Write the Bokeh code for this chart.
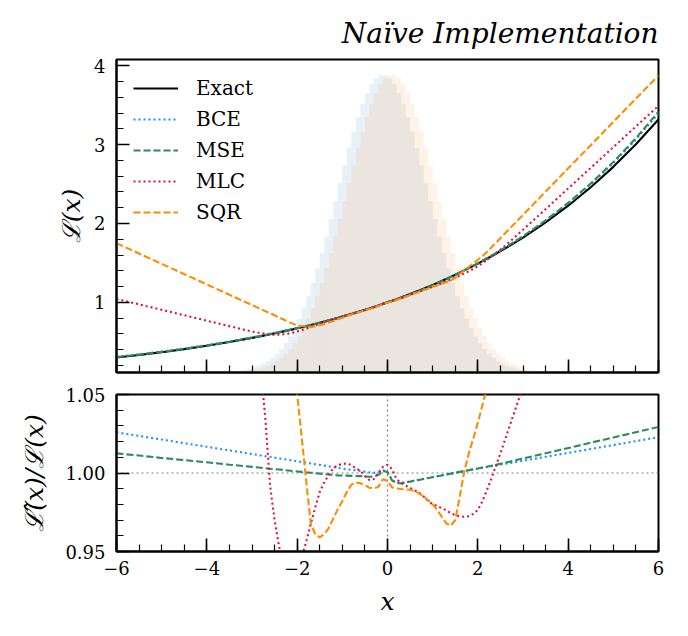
import numpy as np
from bokeh.plotting import figure
from bokeh.layouts import column
from bokeh.models import (Range1d, FixedTicker, Legend, LegendItem, Span, PrintfTickFormatter,
                          CustomJSTickFormatter)
from bokeh.embed import file_html
from bokeh.resources import INLINE

# ---------------- data ----------------
x = [-6, -5.5, -5, -4.5, -4, -3.5, -3,
     -2.8, -2.7, -2.6, -2.5, -2.4, -2.3, -2.2, -2.1, -2.0,
     -1.9, -1.8, -1.7, -1.6, -1.5, -1.4, -1.3, -1.2, -1.1, -1.0,
     -0.9, -0.8, -0.7, -0.6, -0.5, -0.4, -0.3, -0.2, -0.1, 0.0,
     0.1, 0.2, 0.3, 0.4, 0.5, 0.6, 0.7, 0.8, 0.9, 1.0,
     1.1, 1.2, 1.3, 1.4, 1.5, 1.6, 1.7, 1.8, 1.9, 2.0,
     2.1, 2.2, 2.3, 2.4, 2.5, 2.6, 2.7, 2.8, 2.9, 3.0,
     3.5, 4, 4.5, 5, 5.5, 6]

exact = [0.3012, 0.3329, 0.3679, 0.4066, 0.4493, 0.4966, 0.5488,
         0.5712, 0.5827, 0.5945, 0.6065, 0.6188, 0.6313, 0.6440, 0.6570, 0.6703,
         0.6839, 0.6977, 0.7118, 0.7261, 0.7408, 0.7558, 0.7711, 0.7866, 0.8025, 0.8187,
         0.8353, 0.8521, 0.8694, 0.8869, 0.9048, 0.9231, 0.9418, 0.9608, 0.9802, 1.0000,
         1.0202, 1.0408, 1.0618, 1.0833, 1.1052, 1.1275, 1.1503, 1.1735, 1.1972, 1.2214,
         1.2461, 1.2712, 1.2969, 1.3231, 1.3499, 1.3771, 1.4049, 1.4333, 1.4623, 1.4918,
         1.5220, 1.5527, 1.5841, 1.6161, 1.6487, 1.6820, 1.7160, 1.7507, 1.7860, 1.8221,
         2.0138, 2.2255, 2.4596, 2.7183, 3.0042, 3.3201]

ratio_bce = [1.0259, 1.0236, 1.0213, 1.0190, 1.0167, 1.0144, 1.0121,
             1.0112, 1.0107, 1.0103, 1.0098, 1.0093, 1.0089, 1.0084, 1.0079, 1.0075,
             1.0070, 1.0066, 1.0061, 1.0056, 1.0052, 1.0047, 1.0042, 1.0038, 1.0033, 1.0029,
             1.0024, 1.0020, 1.0017, 1.0013, 1.0009, 1.0004, 1.0001, 1.0005, 1.0017, 1.0008,
             0.9957, 0.9939, 0.9935, 0.9941, 0.9946, 0.9952, 0.9957, 0.9963, 0.9968, 0.9974,
             0.9979, 0.9985, 0.9990, 0.9996, 1.0001, 1.0007, 1.0012, 1.0018, 1.0023, 1.0028,
             1.0033, 1.0038, 1.0043, 1.0048, 1.0053, 1.0058, 1.0063, 1.0068, 1.0073, 1.0078,
             1.0103, 1.0128, 1.0153, 1.0178, 1.0203, 1.0228]

ratio_mse = [1.0125, 1.0111, 1.0096, 1.0082, 1.0068, 1.0053, 1.0039,
             1.0033, 1.0030, 1.0027, 1.0025, 1.0022, 1.0019, 1.0016, 1.0013, 1.0010,
             1.0007, 1.0004, 1.0002, 0.9999, 0.9996, 0.9993, 0.9990, 0.9987, 0.9985, 0.9984,
             0.9983, 0.9982, 0.9981, 0.9980, 0.9978, 0.9976, 0.9977, 0.9988, 1.0015, 1.0005,
             0.9953, 0.9937, 0.9934, 0.9940, 0.9945, 0.9951, 0.9956, 0.9962, 0.9968, 0.9973,
             0.9979, 0.9984, 0.9990, 0.9996, 1.0001, 1.0007, 1.0012, 1.0018, 1.0024, 1.0029,
             1.0035, 1.0040, 1.0046, 1.0052, 1.0059, 1.0065, 1.0072, 1.0079, 1.0086, 1.0092,
             1.0126, 1.0159, 1.0193, 1.0226, 1.0260, 1.0293]

ratio_mlc = [3.463, 2.926, 2.460, 2.056, 1.707, 1.405, 1.146,
             1.065, 1.033, 0.992, 0.970, 0.953, 0.942, 0.936, 0.935, 0.938,
             0.947, 0.956, 0.9675, 0.978, 0.988, 0.994, 0.999, 1.003, 1.005, 1.0057,
             1.0061, 1.0050, 1.0030, 1.0015, 0.9980, 0.9955, 0.9962, 1.0000, 1.0040, 1.0052,
             1.0025, 0.9960, 0.9938, 0.9920, 0.9905, 0.9890, 0.9875, 0.9850, 0.9822, 0.9800,
             0.9790, 0.9776, 0.9762, 0.9745, 0.9732, 0.9724, 0.9721, 0.9725, 0.9740, 0.9765,
             0.9820, 0.9890, 0.9965, 1.0045, 1.0125, 1.0210, 1.0295, 1.0380, 1.0465, 1.0540,
             1.0835, 1.0982, 1.1002, 1.0919, 1.0755, 1.0520]

ratio_sqr = [5.810, 4.863, 4.045, 3.340, 2.731, 2.207, 1.759,
             1.598, 1.522, 1.448, 1.377, 1.307, 1.240, 1.174, 1.111, 1.050,
             1.023, 0.995, 0.968, 0.961, 0.959, 0.961, 0.965, 0.971, 0.977, 0.982,
             0.988, 0.9925, 0.9940, 0.9935, 0.9922, 0.9906, 0.9903, 0.9912, 0.9960, 0.9950,
             0.9908, 0.9902, 0.9898, 0.9896, 0.9893, 0.9885, 0.9870, 0.9850, 0.9826, 0.9800,
             0.9765, 0.9722, 0.9680, 0.9664, 0.9700, 0.9850, 1.0010, 1.0125, 1.0220, 1.0320,
             1.0430, 1.0540, 1.0710, 1.0860, 1.1000, 1.1140, 1.1260, 1.1370, 1.1480, 1.1570,
             1.194, 1.213, 1.217, 1.210, 1.193, 1.168]

# histograms (density), bins of width 0.1 starting at -3.5
hist_start = -3.5
hist_width = 0.1
hist_blue = [0.0015, 0.0020, 0.0028, 0.0038, 0.0051, 0.0069, 0.0091, 0.0119, 0.0155, 0.0198,
             0.0252, 0.0317, 0.0395, 0.0488, 0.0596, 0.0721, 0.0863, 0.1023, 0.1200, 0.1394,
             0.1604, 0.1826, 0.2059, 0.2299, 0.2541, 0.2780, 0.3011, 0.3230, 0.3429, 0.3605,
             0.3752, 0.3867, 0.3945, 0.3984, 0.3984, 0.3945, 0.3867, 0.3752, 0.3605, 0.3429,
             0.3230, 0.3011, 0.2780, 0.2541, 0.2299, 0.2059, 0.1826, 0.1604, 0.1394, 0.1200,
             0.1023, 0.0863, 0.0721, 0.0596, 0.0488, 0.0395, 0.0317, 0.0252, 0.0198, 0.0155,
             0.0119, 0.0091, 0.0069, 0.0051, 0.0038, 0.0028, 0.0020, 0.0015, 0.0010, 0.0007]
hist_orange = [0.0007, 0.0010, 0.0015, 0.0020, 0.0028, 0.0038, 0.0051, 0.0069, 0.0091, 0.0119,
               0.0155, 0.0198, 0.0252, 0.0317, 0.0395, 0.0488, 0.0596, 0.0721, 0.0863, 0.1023,
               0.1200, 0.1394, 0.1604, 0.1826, 0.2059, 0.2299, 0.2541, 0.2780, 0.3011, 0.3230,
               0.3429, 0.3605, 0.3752, 0.3867, 0.3945, 0.3984, 0.3984, 0.3945, 0.3867, 0.3752,
               0.3605, 0.3429, 0.3230, 0.3011, 0.2780, 0.2541, 0.2299, 0.2059, 0.1826, 0.1604,
               0.1394, 0.1200, 0.1023, 0.0863, 0.0721, 0.0596, 0.0488, 0.0395, 0.0317, 0.0252,
               0.0198, 0.0155, 0.0119, 0.0091, 0.0069, 0.0051, 0.0038, 0.0028, 0.0020, 0.0015]

labels = ["Exact", "BCE", "MSE", "MLC", "SQR"]
colors = ["black", "#1e90ff", "#2e8b57", "#dc143c", "#ff8c00"]
dashes = ["solid", "2 3", "7 3", "2 3", "7 3"]

# ---------------- derived ----------------
ex = np.array(exact)
ratios = [np.ones_like(ex), np.array(ratio_bce), np.array(ratio_mse),
          np.array(ratio_mlc), np.array(ratio_sqr)]
edges = np.round(hist_start + hist_width * np.arange(len(hist_blue) + 1), 3)

FONT = "DejaVu Serif"
W = 680
LEFT, RIGHT = 116, 22


def style_axes(p):
    p.xgrid.grid_line_color = None
    p.ygrid.grid_line_color = None
    p.outline_line_color = "black"
    p.outline_line_width = 2
    p.outline_line_alpha = 1
    p.background_fill_color = "white"
    p.border_fill_color = "white"
    for ax in list(p.xaxis) + list(p.yaxis):
        ax.axis_line_width = 2
        ax.axis_line_color = "black"
        ax.major_tick_in = 13
        ax.major_tick_out = 0
        ax.minor_tick_in = 7
        ax.minor_tick_out = 0
        ax.major_tick_line_width = 1.6
        ax.minor_tick_line_width = 1.2
        ax.major_tick_line_color = "black"
        ax.minor_tick_line_color = "black"
        ax.major_label_text_font = FONT
        ax.major_label_text_font_size = "18px"
        ax.major_label_text_color = "black"
        ax.major_label_standoff = 11
        ax.axis_label_text_font = FONT
        ax.axis_label_text_font_size = "25px"
        ax.axis_label_text_font_style = "italic"
        ax.axis_label_text_color = "black"


xticker = FixedTicker(ticks=[-6, -4, -2, 0, 2, 4, 6],
                      minor_ticks=[-6 + 0.5 * i for i in range(25)])

# ---------------- top panel ----------------
p1 = figure(width=W, height=383, x_range=Range1d(-6, 6), y_range=Range1d(0.11, 4.08),
            output_backend="svg", toolbar_location=None,
            min_border_left=LEFT, min_border_right=RIGHT, min_border_top=59, min_border_bottom=11)
p1.extra_y_ranges = {"hist": Range1d(0, 0.42)}
p1.quad(left=edges[:-1], right=edges[1:], bottom=0, top=hist_blue, y_range_name="hist",
        fill_color="#1f77b4", fill_alpha=0.1, line_color=None)
p1.quad(left=edges[:-1], right=edges[1:], bottom=0, top=hist_orange, y_range_name="hist",
        fill_color="#ff7f0e", fill_alpha=0.1, line_color=None)

items = []
for lab, col, dash, r in zip(labels, colors, dashes, ratios):
    rr = p1.line(x, ex * r, line_color=col, line_width=2.1, line_dash=dash)
    items.append(LegendItem(label=lab, renderers=[rr]))

legend = Legend(items=items, location="top_left", border_line_color=None,
                background_fill_alpha=0, label_text_font=FONT, label_text_font_size="20px",
                label_text_color="black",
                glyph_width=45, glyph_height=20, label_height=20, spacing=7,
                padding=0, margin=17, label_standoff=18)
p1.add_layout(legend)

style_axes(p1)
p1.xaxis.ticker = xticker
p1.xaxis.formatter = CustomJSTickFormatter(code="return ''")
p1.xaxis.major_label_standoff = 0
p1.yaxis.ticker = FixedTicker(ticks=[1, 2, 3, 4],
                              minor_ticks=[round(0.2 * i, 1) for i in range(1, 21)])
p1.yaxis.axis_label = "ℒ(x)"
p1.yaxis.axis_label_standoff = 5

p1.title.text = "Naïve Implementation"
p1.title.align = "right"
p1.title.text_font = FONT
p1.title.text_font_style = "italic"
p1.title.text_font_size = "28px"
p1.title.text_color = "black"
p1.title.standoff = 20

# ---------------- bottom panel ----------------
p2 = figure(width=W, height=243, x_range=p1.x_range, y_range=Range1d(0.95, 1.05),
            output_backend="svg", toolbar_location=None,
            min_border_left=LEFT, min_border_right=RIGHT, min_border_top=11, min_border_bottom=75)
p2.add_layout(Span(location=1.0, dimension="width", line_color="#808080",
                   line_dash="2 3", line_width=1.2, level="underlay"))
p2.add_layout(Span(location=0.0, dimension="height", line_color="#808080",
                   line_dash="2 3", line_width=1.2, level="underlay"))
for lab, col, dash, r in list(zip(labels, colors, dashes, ratios))[1:]:
    p2.line(x, r, line_color=col, line_width=2.1, line_dash=dash)

style_axes(p2)
p2.xaxis.ticker = xticker
p2.xaxis.major_label_overrides = {-6: "−6", -4: "−4", -2: "−2"}
p2.xaxis.axis_label = "x"
p2.xaxis.major_label_standoff = 9
p2.xaxis.axis_label_standoff = 9
p2.yaxis.ticker = FixedTicker(ticks=[0.95, 1.0, 1.05],
                              minor_ticks=[round(0.95 + 0.01 * i, 2) for i in range(11)])
p2.yaxis.formatter = PrintfTickFormatter(format="%.2f")
p2.yaxis.axis_label = "ℒ̂(x)/ℒ(x)"
p2.yaxis.axis_label_standoff = 13

layout = column(p1, p2, spacing=0)
open("out.html", "w").write(file_html(layout, INLINE))
